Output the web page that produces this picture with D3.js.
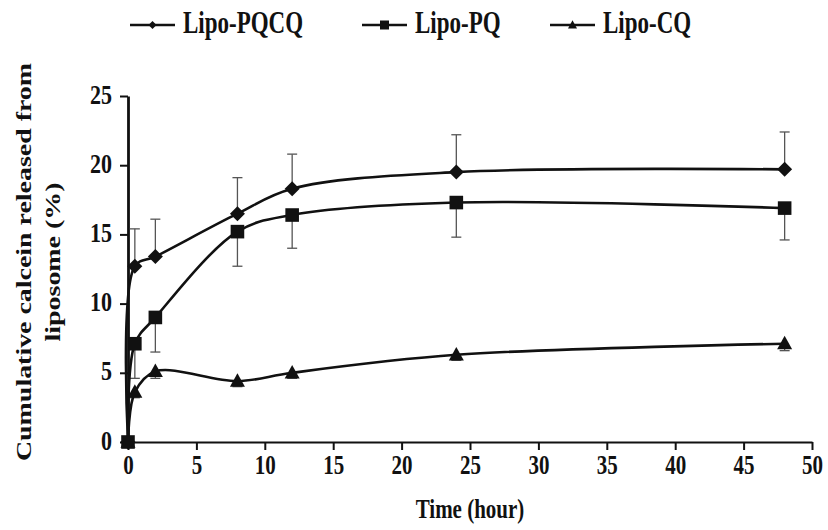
<!DOCTYPE html>
<html>
<head>
<meta charset="utf-8">
<script src="https://cdn.jsdelivr.net/npm/d3@7"></script>
<style>
  body { margin: 0; background: #fff; }
  text { font-family: "Liberation Serif", "Times New Roman", serif; font-weight: bold; fill: #111; }
</style>
</head>
<body>
<div id="chart"></div>
<script>
// time points (hour)
const times = [0, 0.5, 2, 8, 12, 24, 48];
// cumulative calcein released (%)
const pqcq = [0, 12.7, 13.4, 16.5, 18.3, 19.5, 19.7];
const pqcqErr = [0, 2.7, 2.7, 2.6, 2.5, 2.7, 2.7];
const pq = [0, 7.1, 9.0, 15.2, 16.4, 17.3, 16.9];
const pqErr = [0, 2.5, 2.5, 2.5, 2.4, 2.5, 2.3];
const cq = [0, 3.6, 5.1, 4.4, 5.0, 6.3, 7.1];
const cqErr = [0, 0.4, 0.5, 0.4, 0.4, 0.4, 0.5];
const xTicks = [0, 5, 10, 15, 20, 25, 30, 35, 40, 45, 50];
const yTicks = [0, 5, 10, 15, 20, 25];
const seriesNames = ["Lipo-PQCQ", "Lipo-PQ", "Lipo-CQ"];

const W = 828, H = 530;
const margin = { left: 128, top: 96, right: 16, bottom: 88 };
const width = W - margin.left - margin.right;
const height = H - margin.top - margin.bottom;

const svg = d3.select("#chart").append("svg")
  .attr("width", W)
  .attr("height", H);

const x = d3.scaleLinear().domain([0, 50]).range([0, width]);
const y = d3.scaleLinear().domain([0, 25]).range([height, 0]);

const g = svg.append("g")
  .attr("transform", `translate(${margin.left},${margin.top})`);

// marker shapes
function marker(shape, r) {
  if (shape === "diamond") return `M0,${-r}L${r},0L0,${r}L${-r},0Z`;
  if (shape === "square") return `M${-r},${-r}H${r}V${r}H${-r}Z`;
  return `M0,${-r * 1.05}L${r},${r * 0.75}L${-r},${r * 0.75}Z`;
}

// dir: -1 = bar drawn upward, 1 = downward
const series = [
  { name: seriesNames[0], values: pqcq, err: pqcqErr, dir: -1, shape: "diamond", r: 7.5 },
  { name: seriesNames[1], values: pq, err: pqErr, dir: 1, shape: "square", r: 6.8 },
  { name: seriesNames[2], values: cq, err: cqErr, dir: 1, shape: "triangle", r: 7.5 }
];

// axes
const gx = g.append("g")
  .attr("transform", `translate(0,${height})`)
  .call(d3.axisBottom(x).tickValues(xTicks).tickSize(8).tickSizeOuter(0).tickPadding(6));
gx.select(".domain").attr("stroke-width", 2.2).attr("stroke", "#111");
gx.selectAll(".tick line").attr("stroke-width", 2).attr("stroke", "#111");
gx.selectAll(".tick text")
  .attr("font-size", 21)
  .attr("y", 0).attr("dy", 0)
  .attr("transform", "translate(0,32) scale(1,1.25)");

const gy = g.append("g")
  .call(d3.axisLeft(y).tickValues(yTicks).tickSize(8).tickSizeOuter(0).tickPadding(6));
gy.select(".domain").attr("stroke-width", 2.8).attr("stroke", "#111");
gy.selectAll(".tick line").attr("stroke-width", 2).attr("stroke", "#111");
gy.selectAll(".tick text")
  .attr("font-size", 22)
  .attr("x", 0).attr("dy", 0)
  .attr("transform", "translate(-16,7) scale(1,1.25)");

// error bars
series.forEach(s => {
  const eg = g.append("g").attr("stroke", "#555").attr("stroke-width", 1.3);
  times.forEach((t, i) => {
    if (!s.err[i]) return;
    const x0 = x(t);
    const y0 = y(s.values[i]);
    const yEnd = y(s.values[i] - s.dir * s.err[i]);
    eg.append("line").attr("x1", x0).attr("x2", x0).attr("y1", y0).attr("y2", yEnd);
    eg.append("line").attr("x1", x0 - 5).attr("x2", x0 + 5).attr("y1", yEnd).attr("y2", yEnd);
  });
});

// lines
const line = d3.line()
  .x((d, i) => x(times[i]))
  .y(d => y(d))
  .curve(d3.curveCatmullRom.alpha(0.5));

series.forEach(s => {
  g.append("path")
    .datum(s.values)
    .attr("fill", "none")
    .attr("stroke", "#111")
    .attr("stroke-width", 2.6)
    .attr("d", line);

  g.append("g").selectAll("path")
    .data(s.values)
    .enter().append("path")
    .attr("transform", (d, i) => `translate(${x(times[i])},${y(d)})`)
    .attr("d", marker(s.shape, s.r))
    .attr("fill", "#111");
});

// legend
const legendX = [130, 362, 550];
series.forEach((s, i) => {
  const lg = svg.append("g").attr("transform", `translate(${legendX[i]},25)`);
  lg.append("line").attr("x1", 0).attr("x2", 45).attr("y1", 0).attr("y2", 0)
    .attr("stroke", "#111").attr("stroke-width", 2.6);
  lg.append("path").attr("transform", "translate(22.5,0)")
    .attr("d", marker(s.shape, s.shape === "diamond" ? 4 : 4.5)).attr("fill", "#111");
  lg.append("text")
    .attr("transform", "translate(53,8) scale(1,1.35)")
    .attr("font-size", 23)
    .attr("font-weight", i === 0 ? "normal" : "bold")
    .text(s.name);
});

// axis titles
svg.append("text")
  .attr("transform", "translate(470,518) scale(1,1.3)")
  .attr("text-anchor", "middle")
  .attr("font-size", 21)
  .text("Time (hour)");

const yl = svg.append("g").attr("transform", "translate(0,262) rotate(-90) scale(1.33,1)");
yl.append("text")
  .attr("x", 0).attr("y", 31)
  .attr("text-anchor", "middle")
  .attr("font-size", 21)
  .text("Cumulative calcein released from");
yl.append("text")
  .attr("x", 0).attr("y", 60)
  .attr("text-anchor", "middle")
  .attr("font-size", 21)
  .text("liposome (%)");
</script>
</body>
</html>
